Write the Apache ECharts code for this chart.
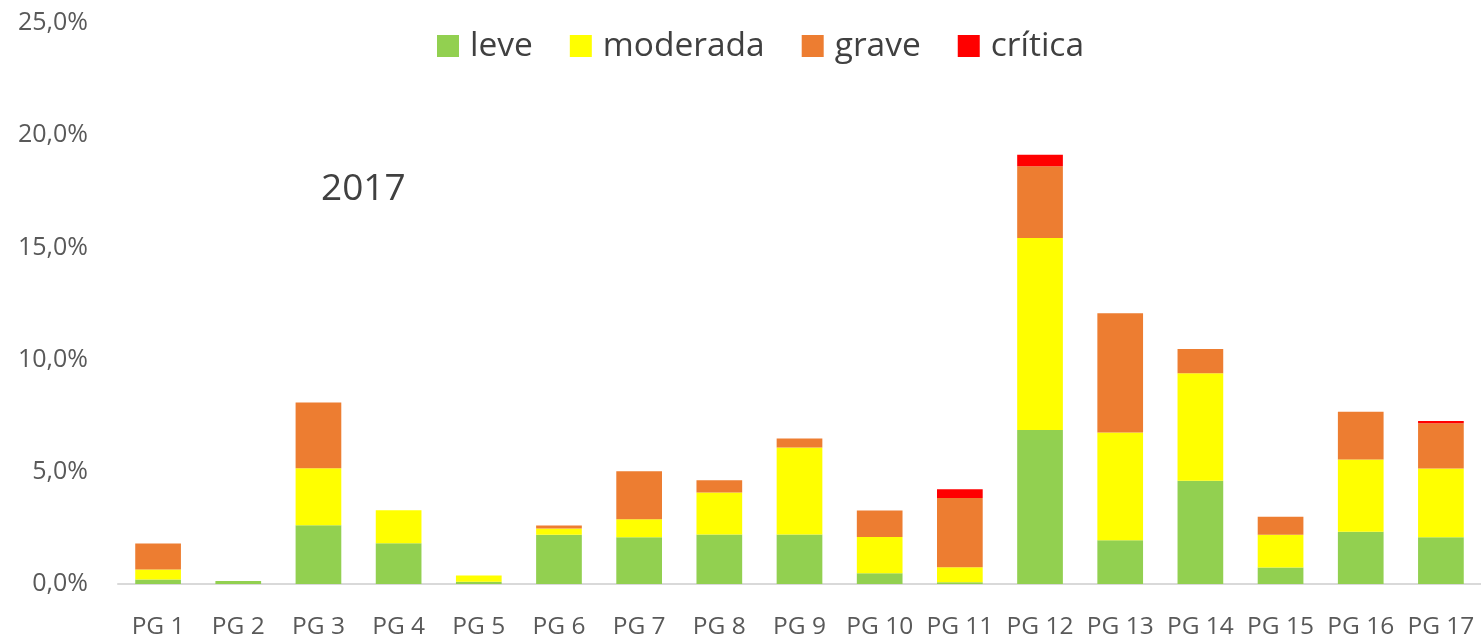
<!DOCTYPE html>
<html>
<head>
<meta charset="utf-8">
<script src="https://cdn.jsdelivr.net/npm/echarts@6/dist/echarts.min.js"></script>
<style>
html,body{margin:0;padding:0;background:#fff;}
#chart{width:1481px;height:640px;}
</style>
</head>
<body>
<div id="chart"></div>
<script>
var categories = ['PG 1','PG 2','PG 3','PG 4','PG 5','PG 6','PG 7','PG 8','PG 9','PG 10','PG 11','PG 12','PG 13','PG 14','PG 15','PG 16','PG 17'];
var leve     = [0.20,0.13,2.62,1.82,0.10,2.20,2.08,2.21,2.21,0.48,0.08,6.86,1.95,4.60,0.74,2.33,2.08];
var moderada = [0.45,0,   2.54,1.47,0.28,0.27,0.80,1.87,3.87,1.61,0.67,8.56,4.80,4.79,1.46,3.22,3.07];
var grave    = [1.15,0,   2.93,0,   0,   0.14,2.14,0.54,0.40,1.19,3.08,3.20,5.32,1.08,0.80,2.13,2.01];
var critica  = [0,   0,   0,   0,   0,   0,   0,   0,   0,   0,   0.39,0.51,0,   0,   0,   0,   0.10];
var seriesNames = ['leve','moderada','grave','crítica'];
var yearLabel = '2017';

var colors = ['#92D050','#FFFF00','#ED7D31','#FF0000'];
var FONT = '"Open Sans", sans-serif';
var chart = echarts.init(document.getElementById('chart'), null, {renderer:'canvas'});
var datasets = [leve, moderada, grave, critica];
var series = datasets.map(function(d, i){
  return {
    name: seriesNames[i],
    type: 'bar',
    stack: 'total',
    data: d,
    barWidth: '57%',
    itemStyle: {color: colors[i]},
    emphasis: {disabled: true}
  };
});
chart.setOption({
  animation: false,
  color: colors,
  textStyle: {fontFamily: FONT},
  grid: {left: 118, right: 0, top: 23, bottom: 55.5, containLabel: false},
  legend: {
    left: 432, top: 21,
    itemWidth: 22, itemHeight: 22, itemGap: 37,
    icon: 'rect',
    data: seriesNames,
    textStyle: {fontFamily: FONT, fontSize: 33.5, color: '#404040', padding: [0,0,0,6], lineHeight: 40}
  },
  xAxis: {
    type: 'category',
    data: categories,
    axisLine: {lineStyle: {color: '#D9D9D9', width: 2}},
    axisTick: {show: false},
    axisLabel: {fontFamily: FONT, fontSize: 24.5, color: '#595959', margin: 31, interval: 0, hideOverlap: false}
  },
  yAxis: {
    type: 'value',
    min: 0, max: 25, interval: 5,
    axisLine: {show: false},
    axisTick: {show: false},
    splitLine: {show: false},
    axisLabel: {
      fontFamily: FONT, fontSize: 25, color: '#595959', margin: 30,
      formatter: function(v){ return v.toFixed(1).replace('.', ',') + '%'; }
    }
  },
  graphic: [{
    type: 'text', left: 321, top: 171,
    style: {text: yearLabel, fontFamily: FONT, fontSize: 37, fill: '#404040'}
  }],
  series: series
});
</script>
</body>
</html>
